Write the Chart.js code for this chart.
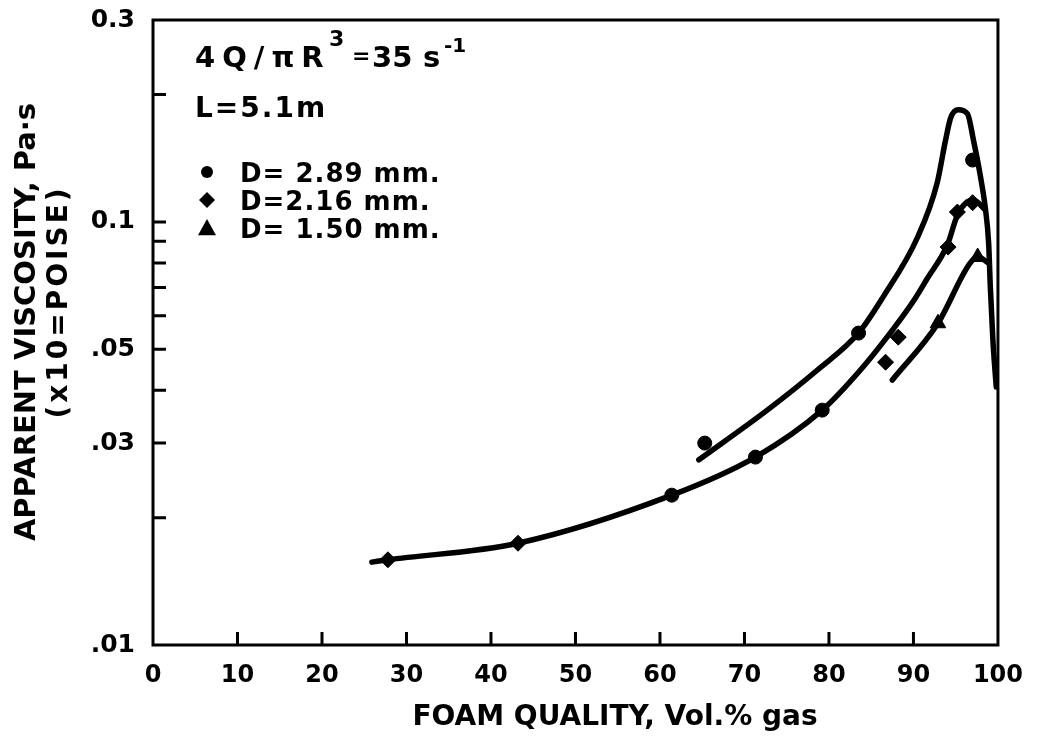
<!DOCTYPE html>
<html>
<head>
<meta charset="utf-8">
<script src="https://cdn.jsdelivr.net/npm/chart.js@4/dist/chart.umd.min.js"></script>
<style>
  body { margin: 0; background: #fff; }
  canvas { display: block; }
</style>
</head>
<body>
<canvas id="foamChart" width="1039" height="738"></canvas>
<script>
// curves (foam quality %, apparent viscosity Pa.s)
var topCurveX = [64.6, 72.7, 78.6, 83.5, 86.4, 90.5, 92.8, 93.8, 94.4, 95.3, 96.4, 97.1, 97.9, 98.5, 98.9, 99.1, 99.4, 99.8];
var topCurveY = [0.0274, 0.0359, 0.0446, 0.0546, 0.0664, 0.0921, 0.1235, 0.156, 0.176, 0.184, 0.180, 0.156, 0.129, 0.108, 0.089, 0.070, 0.0526, 0.0407];

var midCurveX = [25.9, 27.8, 43.2, 61.4, 71.3, 79.2, 83.7, 87.6, 90.0, 91.6, 94.0, 95.2, 96.2, 97.1, 98.5];
var midCurveY = [0.0157, 0.0159, 0.0174, 0.0226, 0.0278, 0.0359, 0.0446, 0.0558, 0.065, 0.0733, 0.0881, 0.1038, 0.1108, 0.1126, 0.1067];

var lowCurveX = [87.5, 92.9, 96.7, 97.6, 98.9];
var lowCurveY = [0.0423, 0.0576, 0.0799, 0.0826, 0.0799];

// measured points
var circleX = [61.4, 65.3, 71.3, 79.2, 83.5, 97.0];
var circleY = [0.0226, 0.030, 0.0278, 0.0359, 0.0546, 0.140];
var diamondX = [27.8, 43.2, 86.7, 88.2, 94.1, 95.2, 97.0];
var diamondY = [0.0159, 0.0174, 0.0466, 0.0534, 0.0872, 0.1055, 0.111];
var triangleX = [92.9, 97.6];
var triangleY = [0.0576, 0.0826];

var seriesLabels = ["D= 2.89 mm.", "D=2.16 mm.", "D= 1.50 mm."];

// axis ticks and titles
var xTickValues = [10, 20, 30, 40, 50, 60, 70, 80, 90];
var yTickValues = [0.01, 0.02, 0.03, 0.04, 0.05, 0.06, 0.07, 0.08, 0.09, 0.1, 0.2, 0.3];
var yTickLabels = { "0.01": ".01", "0.03": ".03", "0.05": ".05", "0.1": "0.1", "0.3": "0.3" };
var xTitle = "FOAM QUALITY, Vol.% gas";
var yTitle = ["APPARENT VISCOSITY, Pa\u00B7s", "(x10=POISE)"];

var FONT = '"DejaVu Sans", "Liberation Sans", sans-serif';

function toPoints(xs, ys) {
  var pts = [];
  for (var i = 0; i < xs.length; i++) pts.push({ x: xs[i], y: ys[i] });
  return pts;
}

function curve(xs, ys) {
  return {
    data: toPoints(xs, ys),
    showLine: true,
    borderColor: "#000",
    borderWidth: 5.5,
    borderCapStyle: "round",
    borderJoinStyle: "round",
    pointRadius: 0,
    cubicInterpolationMode: "monotone"
  };
}

function markers(label, xs, ys, style, r) {
  return {
    label: label,
    data: toPoints(xs, ys),
    showLine: false,
    pointStyle: style,
    pointRadius: r,
    backgroundColor: "#000",
    borderColor: "#000",
    borderWidth: 1
  };
}

function symbol(ctx, style, x, y, r) {
  ctx.beginPath();
  if (style === "circle") {
    ctx.arc(x, y, r, 0, Math.PI * 2);
  } else if (style === "rectRot") {
    ctx.moveTo(x, y - r); ctx.lineTo(x + r, y); ctx.lineTo(x, y + r); ctx.lineTo(x - r, y);
  } else {
    ctx.moveTo(x, y - r); ctx.lineTo(x + r, y + r * 0.8); ctx.lineTo(x - r, y + r * 0.8);
  }
  ctx.closePath();
  ctx.fill();
}

// frame, inward tick marks, axis titles and the note / key in the upper left
var framePlugin = {
  id: "frame",
  afterDraw: function (chart) {
    var ctx = chart.ctx, a = chart.chartArea;
    var xs = chart.scales.x, ys = chart.scales.y;
    ctx.save();
    ctx.strokeStyle = "#000";
    ctx.lineWidth = 3;
    ctx.strokeRect(a.left, a.top, a.right - a.left, a.bottom - a.top);

    ctx.beginPath();
    xTickValues.forEach(function (v) {
      var px = xs.getPixelForValue(v);
      ctx.moveTo(px, a.bottom); ctx.lineTo(px, a.bottom - 13);
    });
    yTickValues.forEach(function (v) {
      if (v === 0.01 || v === 0.3) return;
      var py = ys.getPixelForValue(v);
      ctx.moveTo(a.left, py); ctx.lineTo(a.left + 13, py);
    });
    ctx.stroke();

    ctx.fillStyle = "#000";

    // axis titles
    ctx.textAlign = "center";
    ctx.textBaseline = "middle";
    ctx.font = "bold 28px " + FONT;
    ctx.fillText(xTitle, 615, 718);
    ctx.save();
    ctx.translate(27, 322);
    ctx.rotate(-Math.PI / 2);
    ctx.font = "bold 29px " + FONT;
    ctx.fillText(yTitle[0], 0, 0);
    ctx.restore();
    ctx.save();
    ctx.translate(60, 302);
    ctx.rotate(-Math.PI / 2);
    ctx.font = "bold 28px " + FONT;
    ctx.letterSpacing = "3px";
    ctx.fillText(yTitle[1], 0, 0);
    ctx.restore();

    // shear rate note
    ctx.textAlign = "left";
    ctx.textBaseline = "alphabetic";
    ctx.letterSpacing = "7px";
    ctx.font = "bold 29px " + FONT;
    ctx.fillText("4Q/\u03C0R", 195, 67);
    ctx.letterSpacing = "0px";
    ctx.font = "bold 22px " + FONT;
    ctx.fillText("3", 329, 46);
    ctx.font = "bold 22px " + FONT;
    ctx.fillText("=", 352, 63);
    ctx.font = "bold 29px " + FONT;
    ctx.fillText("35", 372, 67);
    ctx.fillText("s", 423, 67);
    ctx.font = "bold 20px " + FONT;
    ctx.fillText("-1", 444, 52);

    ctx.font = "bold 28px " + FONT;
    ctx.letterSpacing = "2px";
    ctx.fillText("L=5.1m", 195, 117);

    // key
    var styles = ["circle", "rectRot", "triangle"];
    var sizes = [6, 8, 9];
    ctx.font = "bold 26px " + FONT;
    ctx.letterSpacing = "1px";
    for (var i = 0; i < seriesLabels.length; i++) {
      var base = 182 + i * 28;
      symbol(ctx, styles[i], 207, base - 10, sizes[i]);
      ctx.fillText(seriesLabels[i], 240, base);
    }
    ctx.restore();
  }
};

var canvas = document.getElementById("foamChart");
var foamChart = new Chart(canvas, {
  type: "scatter",
  data: {
    datasets: [
      curve(topCurveX, topCurveY),
      curve(midCurveX, midCurveY),
      curve(lowCurveX, lowCurveY),
      markers(seriesLabels[0], circleX, circleY, "circle", 7),
      markers(seriesLabels[1], diamondX, diamondY, "rectRot", 8),
      markers(seriesLabels[2], triangleX, triangleY, "triangle", 9)
    ]
  },
  options: {
    responsive: false,
    animation: false,
    layout: { padding: { top: 20, right: 41, left: 0, bottom: 0 } },
    plugins: {
      legend: { display: false },
      tooltip: { enabled: false }
    },
    scales: {
      x: {
        type: "linear",
        min: 0,
        max: 100,
        ticks: { stepSize: 10, color: "#000", padding: 16, font: { family: FONT, size: 24, weight: "bold" } },
        grid: { display: false, drawTicks: false },
        border: { display: false },
        afterFit: function (s) { s.height = 93; }
      },
      y: {
        type: "logarithmic",
        min: 0.01,
        max: 0.3,
        afterBuildTicks: function (s) {
          s.ticks = yTickValues.map(function (v) { return { value: v }; });
        },
        ticks: {
          color: "#000",
          padding: 18,
          autoSkip: false,
          // tiny line height keeps the top label from pushing the plot down
          font: { family: FONT, size: 25, weight: "bold", lineHeight: 0.1 },
          callback: function (v) { return yTickLabels[String(v)] || ""; }
        },
        grid: { display: false, drawTicks: false },
        border: { display: false },
        afterFit: function (s) { s.width = 153; }
      }
    }
  },
  plugins: [framePlugin]
});
</script>
</body>
</html>
